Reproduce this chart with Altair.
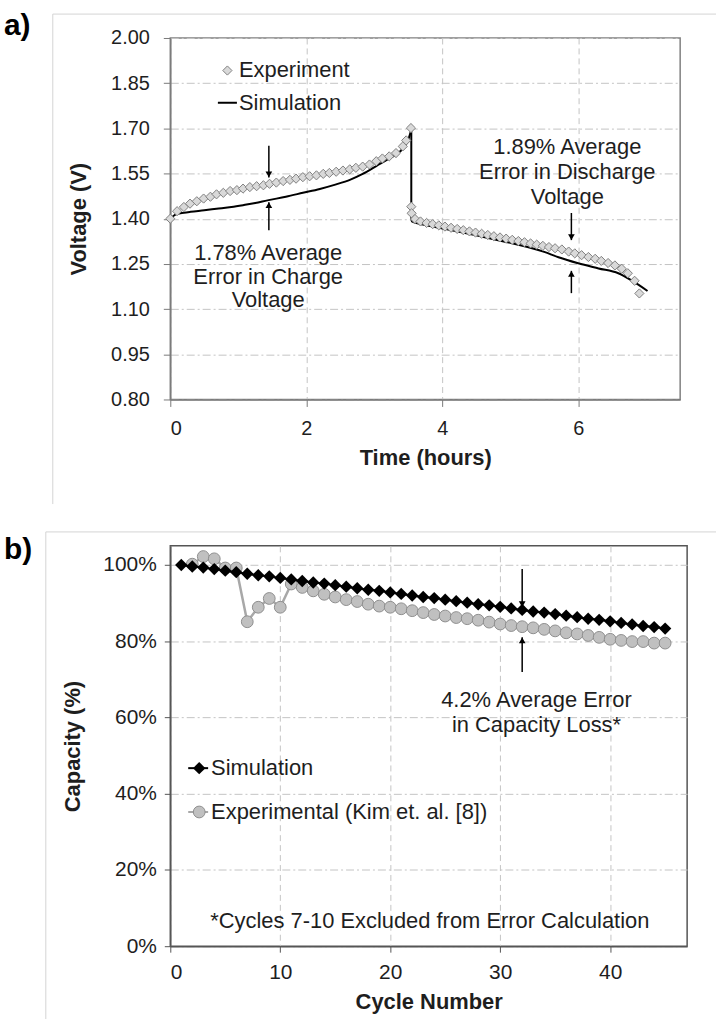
import altair as alt
import pandas as pd

FONT = "Liberation Sans"
TXT = "#1e1e1e"

# ---------------- panel a : voltage vs time ----------------
exp_charge_t = [0.00, 0.10, 0.20, 0.29, 0.39, 0.49, 0.59, 0.68, 0.78, 0.88,
                0.98, 1.07, 1.17, 1.27, 1.37, 1.46, 1.56, 1.66, 1.76, 1.85,
                1.95, 2.05, 2.15, 2.25, 2.34, 2.44, 2.54, 2.64, 2.73, 2.83,
                2.93, 3.03, 3.12, 3.22, 3.32, 3.42, 3.47, 3.54]
exp_charge_v = [1.400, 1.425, 1.439, 1.450, 1.458, 1.467, 1.473, 1.481, 1.486, 1.492,
                1.495, 1.500, 1.505, 1.508, 1.511, 1.516, 1.520, 1.525, 1.529, 1.533,
                1.538, 1.541, 1.544, 1.549, 1.552, 1.556, 1.560, 1.564, 1.569, 1.573,
                1.580, 1.591, 1.600, 1.607, 1.618, 1.640, 1.660, 1.701]
exp_dis_t = [3.545, 3.55, 3.60, 3.68, 3.77, 3.86, 3.95, 4.04, 4.13, 4.22,
             4.31, 4.40, 4.49, 4.58, 4.67, 4.76, 4.85, 4.94, 5.03, 5.12,
             5.21, 5.30, 5.39, 5.48, 5.57, 5.66, 5.76, 5.86, 5.95, 6.05,
             6.15, 6.25, 6.34, 6.44, 6.54, 6.64, 6.73, 6.83, 6.90]
exp_dis_v = [1.440, 1.418, 1.399, 1.391, 1.386, 1.382, 1.378, 1.374, 1.370, 1.366,
             1.362, 1.358, 1.354, 1.350, 1.346, 1.342, 1.338, 1.334, 1.330, 1.326,
             1.322, 1.318, 1.314, 1.310, 1.306, 1.302, 1.298, 1.291, 1.285, 1.279,
             1.273, 1.267, 1.260, 1.253, 1.245, 1.234, 1.219, 1.194, 1.152]
# simulation: charge branch and discharge branch
sim_charge_t = [0.00, 0.05, 0.10, 0.20, 0.30, 0.50, 0.68, 0.90, 1.07, 1.25,
                1.43, 1.70, 1.95, 2.20, 2.44, 2.65, 2.83, 3.03, 3.22, 3.42,
                3.50, 3.545]
sim_charge_v = [1.400, 1.410, 1.416, 1.420, 1.423, 1.428, 1.433, 1.439, 1.445, 1.452,
                1.461, 1.473, 1.486, 1.499, 1.514, 1.530, 1.549, 1.575, 1.600, 1.633,
                1.662, 1.695]
sim_dis_t = [3.545, 3.56, 3.62, 3.80, 4.05, 4.50, 5.00, 5.50, 5.71, 6.00,
             6.30, 6.59, 6.78, 7.02]
sim_dis_v = [1.398, 1.390, 1.386, 1.377, 1.366, 1.345, 1.320, 1.290, 1.272, 1.252,
             1.235, 1.219, 1.196, 1.160]

a_yticks = [0.80, 0.95, 1.10, 1.25, 1.40, 1.55, 1.70, 1.85, 2.00]
a_xticks = [0, 2, 4, 6]
a_notes = ["1.78% Average", "Error in Charge", "Voltage",
           "1.89% Average", "Error in Discharge", "Voltage"]
a_notes_t = [1.44, 1.44, 1.44, 5.84, 5.84, 5.84]
a_notes_v = [1.286, 1.207, 1.130, 1.637, 1.554, 1.472]
a_arrow_t = [1.45, 1.45, 5.90, 5.90]
a_arrow_from = [1.642, 1.362, 1.419, 1.153]
a_arrow_to = [1.537, 1.455, 1.329, 1.227]
a_arrow_dir = ["down", "up", "down", "up"]

# ---------------- panel b : capacity vs cycle ----------------
sim_cycles = list(range(1, 46))
sim_cap = [1.000, 0.996, 0.993, 0.989, 0.985, 0.981, 0.977, 0.973, 0.970, 0.966,
           0.962, 0.958, 0.954, 0.951, 0.947, 0.943, 0.939, 0.935, 0.932, 0.928,
           0.924, 0.920, 0.916, 0.913, 0.909, 0.905, 0.901, 0.897, 0.894, 0.890,
           0.886, 0.882, 0.878, 0.875, 0.871, 0.867, 0.863, 0.859, 0.856, 0.852,
           0.848, 0.844, 0.840, 0.837, 0.833]
exp_cycles = list(range(2, 46))
exp_cap = [1.002, 1.022, 1.016, 0.992, 0.992, 0.851, 0.889, 0.912, 0.889, 0.950,
           0.941, 0.932, 0.923, 0.916, 0.909, 0.904, 0.897, 0.892, 0.889, 0.885,
           0.880, 0.875, 0.870, 0.866, 0.862, 0.859, 0.855, 0.850, 0.845, 0.841,
           0.838, 0.835, 0.831, 0.827, 0.822, 0.819, 0.815, 0.810, 0.805, 0.802,
           0.799, 0.799, 0.795, 0.795]
b_yticks = [0, 0.2, 0.4, 0.6, 0.8, 1.0]
b_xticks = [0, 10, 20, 30, 40]
b_notes = ["4.2% Average Error", "in Capacity Loss*",
           "*Cycles 7-10 Excluded from Error Calculation"]
b_notes_c = [33.3, 33.3, 23.6]
b_notes_v = [0.645, 0.580, 0.066]
b_arrow_c = [32, 32]
b_arrow_from = [0.989, 0.719]
b_arrow_to = [0.889, 0.810]
b_arrow_dir = ["down", "up"]

one = pd.DataFrame({"k": [0]})


def axis(**kw):
    base = dict(labelFont=FONT, labelColor=TXT, titleFont=FONT, titleColor=TXT,
                titleFontWeight="bold", domainColor="#7a7a7a", domainWidth=1.5,
                tickColor="#7a7a7a", gridColor="#c4c4c4", gridWidth=1)
    base.update(kw)
    return alt.Axis(**base)


# ======== panel a ========
XA = alt.X("t:Q", scale=alt.Scale(domain=[0, 7.5], nice=False, zero=False),
           axis=axis(values=a_xticks, format="d", title="Time (hours)", labelFontSize=20,
                     titleFontSize=22, tickSize=7, labelPadding=12, titlePadding=9,
                     gridDash=[6, 4]))
YA = alt.Y("v:Q", scale=alt.Scale(domain=[0.8, 2.0], nice=False, zero=False),
           axis=axis(values=a_yticks, format=".2f", title="Voltage (V)", labelFontSize=20,
                     titleFontSize=22, tickSize=7, labelPadding=14, titlePadding=20,
                     gridDash=[8, 3, 2, 3]))

df_simc = pd.DataFrame({"t": sim_charge_t, "v": sim_charge_v})
df_simd = pd.DataFrame({"t": sim_dis_t, "v": sim_dis_v})
df_drop = pd.DataFrame({"t": [sim_charge_t[-1]], "v": [sim_charge_v[-1]], "v2": [sim_dis_v[0]]})
df_exp = pd.DataFrame({"t": exp_charge_t + exp_dis_t, "v": exp_charge_v + exp_dis_v})
df_anote = pd.DataFrame({"t": a_notes_t, "v": a_notes_v, "label": a_notes})
df_aarrow = pd.DataFrame({"t": a_arrow_t, "v": a_arrow_from, "v2": a_arrow_to, "dir": a_arrow_dir})
df_aleg_pt = pd.DataFrame({"t": [0.84], "v": [1.892]})
df_aleg_ln = pd.DataFrame({"t": [0.70], "t2": [0.98], "v": [1.785]})
df_aleg_tx = pd.DataFrame({"t": [1.01, 1.01], "v": [1.892, 1.785], "label": ["Experiment", "Simulation"]})

a_frame_top = alt.Chart(one).mark_rule(color="#d4d4d4", strokeWidth=1).encode(
    x=alt.value(-118), x2=alt.value(548), y=alt.value(-24))
a_frame_left = alt.Chart(one).mark_rule(color="#d4d4d4", strokeWidth=1).encode(
    x=alt.value(-118), y=alt.value(-24), y2=alt.value(468))
a_tag = alt.Chart(pd.DataFrame({"l": ["a)"]})).mark_text(
    font=FONT, fontSize=30, fontWeight="bold", align="left", baseline="middle", color="black"
).encode(x=alt.value(-167), y=alt.value(-12), text="l:N")

a_line_c = alt.Chart(df_simc).mark_line(color="black", strokeWidth=2, interpolate="monotone").encode(x=XA, y=YA)
a_line_d = alt.Chart(df_simd).mark_line(color="black", strokeWidth=2, interpolate="monotone").encode(x=XA, y=YA)
a_drop = alt.Chart(df_drop).mark_rule(color="black", strokeWidth=2).encode(x=XA, y=YA, y2="v2:Q")
a_pts = alt.Chart(df_exp).mark_point(shape="diamond", filled=True, fill="#d9d9d9", stroke="#808080",
                                     strokeWidth=1, size=85, opacity=1).encode(x=XA, y=YA)
a_txt = alt.Chart(df_anote).mark_text(font=FONT, fontSize=22, color=TXT, align="center",
                                      baseline="middle").encode(x=XA, y=YA, text="label:N")
a_rule = alt.Chart(df_aarrow).mark_rule(color="black", strokeWidth=1.5).encode(x=XA, y=YA, y2="v2:Q")
a_head_dn = alt.Chart(df_aarrow).transform_filter(alt.datum.dir == "down").mark_point(
    shape="triangle-down", filled=True, color="black", size=45, opacity=1, yOffset=-3
).encode(x=XA, y=alt.Y("v2:Q"))
a_head_up = alt.Chart(df_aarrow).transform_filter(alt.datum.dir == "up").mark_point(
    shape="triangle-up", filled=True, color="black", size=45, opacity=1, yOffset=3
).encode(x=XA, y=alt.Y("v2:Q"))
a_leg_pt = alt.Chart(df_aleg_pt).mark_point(shape="diamond", filled=True, fill="#d9d9d9", stroke="#808080",
                                            strokeWidth=1, size=85, opacity=1).encode(x=XA, y=YA)
a_leg_ln = alt.Chart(df_aleg_ln).mark_rule(color="black", strokeWidth=2).encode(x=XA, x2="t2:Q", y=YA)
a_leg_tx = alt.Chart(df_aleg_tx).mark_text(font=FONT, fontSize=22, color=TXT, align="left",
                                           baseline="middle").encode(x=XA, y=YA, text="label:N")

panel_a = alt.layer(
    a_frame_top, a_frame_left, a_tag, a_line_c, a_line_d, a_drop, a_pts, a_txt, a_rule,
    a_head_dn, a_head_up, a_leg_pt, a_leg_ln, a_leg_tx
).properties(width=512, height=363, view=alt.ViewBackground(stroke="#808080", strokeWidth=1.5))

# ======== panel b ========
XB = alt.X("c:Q", scale=alt.Scale(domain=[0, 47], nice=False, zero=False),
           axis=axis(values=b_xticks, format="d", title="Cycle Number", labelFontSize=21,
                     titleFontSize=22, tickSize=6, labelPadding=9, titlePadding=10,
                     gridDash=[6, 4], domainColor="#555555", tickColor="#555555"))
YB = alt.Y("p:Q", scale=alt.Scale(domain=[0, 1.05], nice=False, zero=False),
           axis=axis(values=b_yticks, format=".0%", title="Capacity  (%)", labelFontSize=21,
                     titleFontSize=22, tickSize=6, labelPadding=8, titlePadding=18,
                     gridDash=[8, 3, 2, 3], domainColor="#555555", tickColor="#555555"))

df_bsim = pd.DataFrame({"c": sim_cycles, "p": sim_cap})
df_bexp = pd.DataFrame({"c": exp_cycles, "p": exp_cap})
df_bnote = pd.DataFrame({"c": b_notes_c, "p": b_notes_v, "label": b_notes})
df_barrow = pd.DataFrame({"c": b_arrow_c, "p": b_arrow_from, "p2": b_arrow_to, "dir": b_arrow_dir})
df_bleg_sim = pd.DataFrame({"c": [2.63], "p": [0.467]})
df_bleg_exp = pd.DataFrame({"c": [2.63], "p": [0.352]})
df_bleg_ln = pd.DataFrame({"c": [1.63, 1.63], "c2": [3.44, 3.44], "p": [0.467, 0.352],
                           "s": ["sim", "exp"]})
df_bleg_tx = pd.DataFrame({"c": [3.71, 3.71], "p": [0.467, 0.352],
                           "label": ["Simulation", "Experimental (Kim et. al. [8])"]})

b_frame_top = alt.Chart(one).mark_rule(color="#d4d4d4", strokeWidth=1).encode(
    x=alt.value(-125), x2=alt.value(548), y=alt.value(-14))
b_frame_left = alt.Chart(one).mark_rule(color="#d4d4d4", strokeWidth=1).encode(
    x=alt.value(-125), y=alt.value(-14), y2=alt.value(480))
b_tag = alt.Chart(pd.DataFrame({"l": ["b)"]})).mark_text(
    font=FONT, fontSize=30, fontWeight="bold", align="left", baseline="middle", color="black"
).encode(x=alt.value(-167), y=alt.value(4), text="l:N")

b_exp_line = alt.Chart(df_bexp).mark_line(color="#a8a8a8", strokeWidth=2.5).encode(x=XB, y=YB)
b_exp_pts = alt.Chart(df_bexp).mark_point(shape="circle", filled=True, fill="#c0c0c0", stroke="#8e8e8e",
                                          strokeWidth=1, size=140, opacity=1).encode(x=XB, y=YB)
b_sim_line = alt.Chart(df_bsim).mark_line(color="black", strokeWidth=2).encode(x=XB, y=YB)
b_sim_pts = alt.Chart(df_bsim).mark_point(shape="diamond", filled=True, color="black",
                                          size=155, opacity=1).encode(x=XB, y=YB)
b_txt = alt.Chart(df_bnote).mark_text(font=FONT, fontSize=22, color=TXT, align="center",
                                      baseline="middle").encode(x=XB, y=YB, text="label:N")
b_rule = alt.Chart(df_barrow).mark_rule(color="black", strokeWidth=1.5).encode(x=XB, y=YB, y2="p2:Q")
b_head_dn = alt.Chart(df_barrow).transform_filter(alt.datum.dir == "down").mark_point(
    shape="triangle-down", filled=True, color="black", size=45, opacity=1, yOffset=-3
).encode(x=XB, y=alt.Y("p2:Q"))
b_head_up = alt.Chart(df_barrow).transform_filter(alt.datum.dir == "up").mark_point(
    shape="triangle-up", filled=True, color="black", size=45, opacity=1, yOffset=3
).encode(x=XB, y=alt.Y("p2:Q"))
b_leg_ln = alt.Chart(df_bleg_ln).mark_rule(strokeWidth=2).encode(
    x=XB, x2="c2:Q", y=YB,
    color=alt.Color("s:N", scale=alt.Scale(domain=["sim", "exp"], range=["black", "#a8a8a8"]), legend=None))
b_leg_sim = alt.Chart(df_bleg_sim).mark_point(shape="diamond", filled=True, color="black",
                                              size=155, opacity=1).encode(x=XB, y=YB)
b_leg_exp = alt.Chart(df_bleg_exp).mark_point(shape="circle", filled=True, fill="#c0c0c0", stroke="#8e8e8e",
                                              strokeWidth=1, size=140, opacity=1).encode(x=XB, y=YB)
b_leg_tx = alt.Chart(df_bleg_tx).mark_text(font=FONT, fontSize=22, color=TXT, align="left",
                                           baseline="middle").encode(x=XB, y=YB, text="label:N")

panel_b = alt.layer(
    b_frame_top, b_frame_left, b_tag, b_exp_line, b_exp_pts, b_sim_line, b_sim_pts, b_txt,
    b_rule, b_head_dn, b_head_up, b_leg_ln, b_leg_sim, b_leg_exp, b_leg_tx
).properties(width=519, height=402, view=alt.ViewBackground(stroke="#555555", strokeWidth=1.5))

chart = alt.vconcat(panel_a, panel_b, spacing=24).properties(
    padding={"left": 3, "top": 8, "right": 0, "bottom": 0},
    background="white"
)

chart.save("out.html", embed_options={"renderer": "svg", "actions": False})
